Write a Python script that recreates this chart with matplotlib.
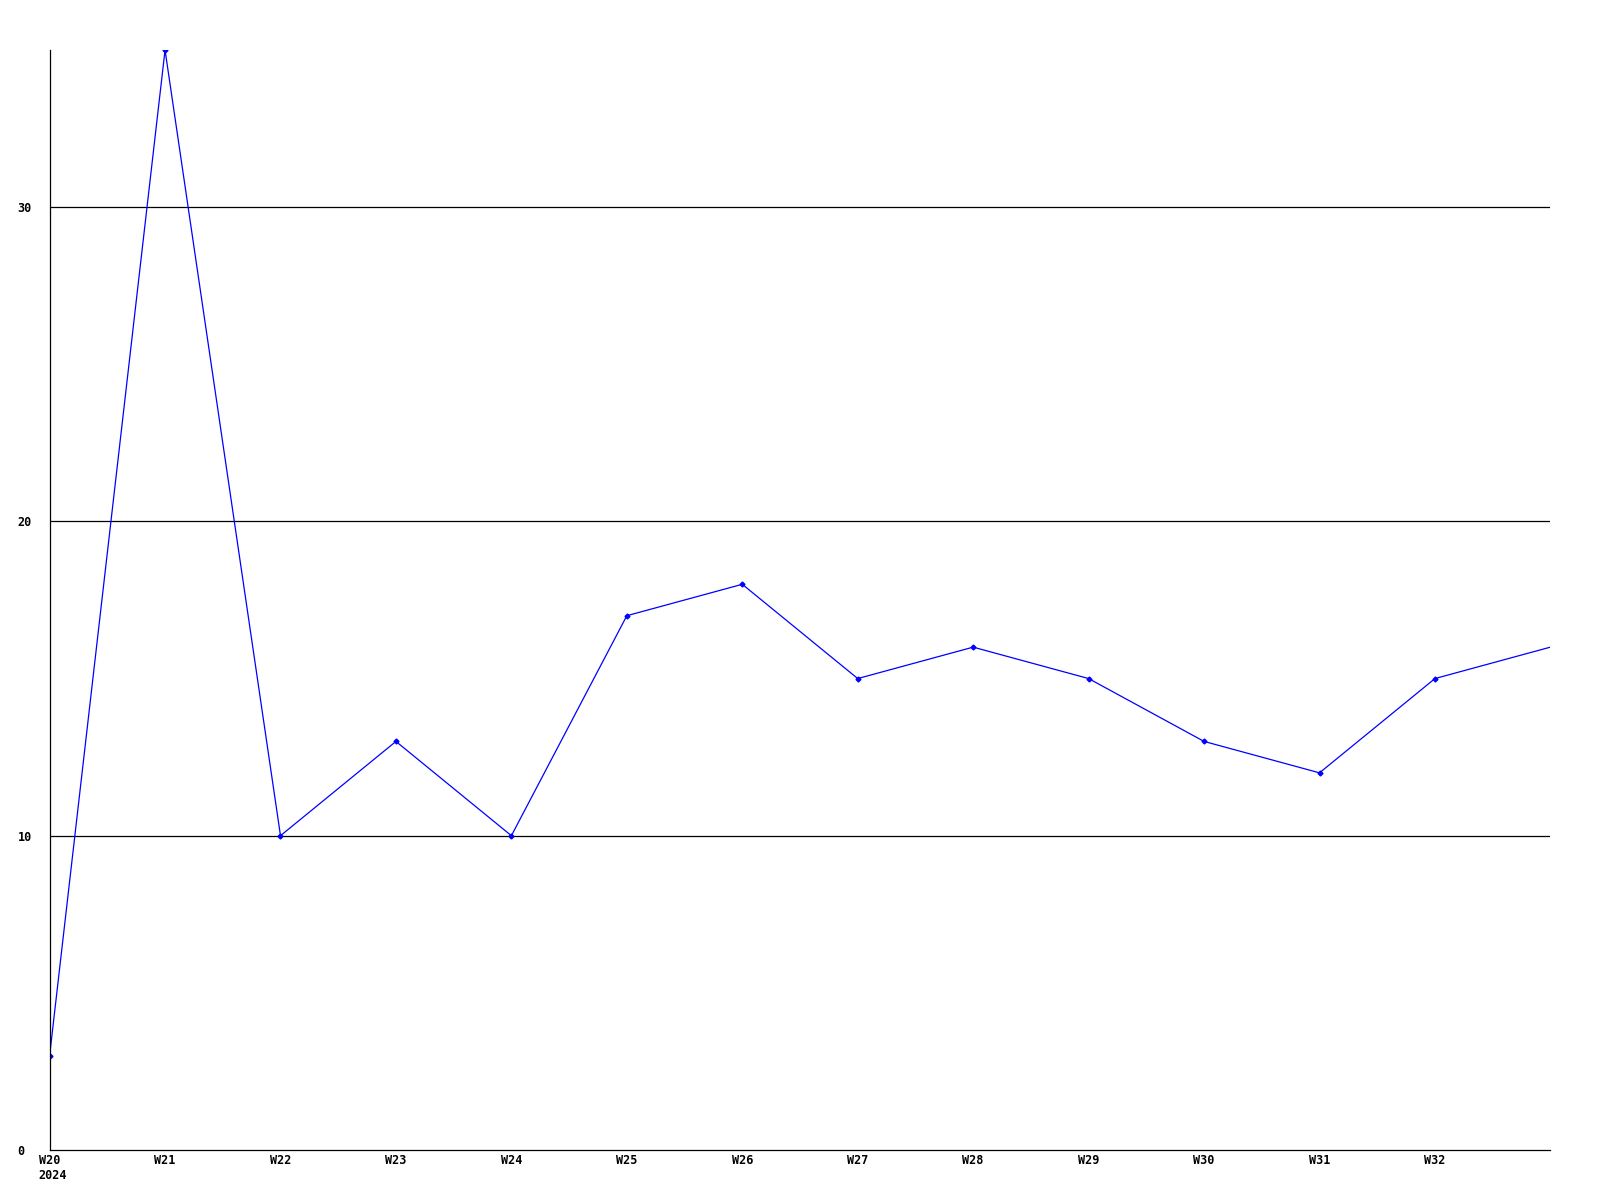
import matplotlib
matplotlib.use('Agg')
import matplotlib.pyplot as plt

# weekly values
weeks = ['W20', 'W21', 'W22', 'W23', 'W24', 'W25', 'W26', 'W27', 'W28', 'W29', 'W30', 'W31', 'W32', 'W33']
values = [3, 35, 10, 13, 10, 17, 18, 15, 16, 15, 13, 12, 15, 16]
tick_labels = weeks[:-1]
y_ticks = [0, 10, 20, 30]

font = {'family': 'DejaVu Sans Mono', 'weight': 'bold', 'size': 8.5}

fig = plt.figure(figsize=(16, 12), dpi=100)
ax = fig.add_axes([0.031, 0.0417, 0.938, 0.9166])

x = list(range(len(values)))
ax.plot(x, values, color='#0000ff', linewidth=0.9, marker='D', markersize=2.5,
        markevery=list(range(len(values) - 1)))

ax.set_xlim(0, len(values) - 1)
ax.set_ylim(0, 35)

for y in y_ticks[1:]:
    ax.axhline(y, color='black', linewidth=0.9, zorder=0)

ax.set_xticks(range(len(tick_labels)))
ax.set_xticklabels(tick_labels, fontdict=font)
ax.set_yticks(y_ticks)
ax.set_yticklabels([str(v) for v in y_ticks], fontdict=font, ha='left')
ax.tick_params(axis='y', length=0, pad=23)
ax.tick_params(axis='x', length=0, pad=3)
ax.text(-0.1, -0.017, '2024', transform=ax.get_xaxis_transform(), ha='left', va='top', **font)

ax.spines['top'].set_visible(False)
ax.spines['right'].set_visible(False)
ax.spines['left'].set_linewidth(0.9)
ax.spines['bottom'].set_linewidth(0.9)

plt.savefig('out.png', dpi=100)
